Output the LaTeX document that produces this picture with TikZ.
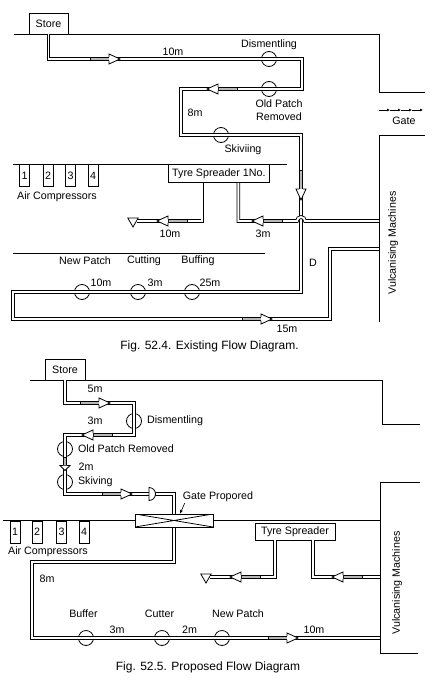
\documentclass[tikz,border=0pt]{standalone}
\usepackage{fontspec}
\setmainfont{Liberation Sans}
\usetikzlibrary{arrows.meta,positioning,shapes.geometric}

\newcommand{\lab}{\fontsize{10.7}{13}\selectfont}
\newcommand{\capfont}{\fontsize{12}{14}\selectfont}

\begin{document}
\begin{tikzpicture}[
  x=1pt, y=-1pt,
  font=\lab,
  wall/.style={draw=black, line width=0.9pt},
  pipe/.style={draw=black, line width=0.85pt, double=white, double distance=1.9pt},
  box/.style={rectangle, draw=black, line width=0.8pt, fill=white, inner sep=1pt},
  station/.style={circle, draw=black, line width=0.8pt, minimum size=15pt, inner sep=0pt},
  comp/.style={rectangle, draw=black, line width=0.8pt, fill=white,
               minimum width=10pt, minimum height=22pt, inner sep=0pt, anchor=north},
  outlet/.style={regular polygon, regular polygon sides=3, shape border rotate=180,
                 draw=black, line width=0.8pt, fill=white, minimum size=12pt, inner sep=0pt},
  txt/.style={inner sep=1pt},
  flowmark/.pic={
    \filldraw[fill=gray!55, line width=0.7pt] (0pt,-1.8pt) rectangle (19pt,1.8pt);
    \filldraw[fill=white, line width=0.8pt] (19pt,-1.8pt) -- (19pt,-5pt) -- (30pt,0pt)
      -- (19pt,5pt) -- (19pt,1.8pt);
  }
]
\useasboundingbox (0,0) rectangle (432,685);

% Fig. 52.4
\draw[wall] (14,34) -- (379,34) -- (379,92) -- (425,92);
\draw[wall] (425,135) -- (379,135) -- (379,322);
\node[box, minimum width=39pt, minimum height=21pt] (store1) at (48.5,23.5) {Store};
\foreach \gx in {379,390,401,412}
  \draw[line width=0.6pt, -{Latex[length=3pt, width=3pt]}] (\gx,110) -- ++(11,0);
\node[txt] (gate1) at (404,121) {Gate};
\node[txt, rotate=90] (vm1) at (393,243) {Vulcanising Machines};

\node[station] (dism1) at (269,59) {};
\node[station] (oldp1) at (269,89) {};
\node[station] (skiv1) at (221,135) {};
\node[station] (newp1) at (82,292) {};
\node[station] (cut1) at (138,292) {};
\node[station] (buff1) at (192,292) {};

\draw[pipe] (store1.south) |- (302,59) |- (181,89) |- (301,135) |- (13,292)
  |- (330,319) |- (379,249);

\draw[wall] (13,164) -- (287,164);
\draw[wall] (13,253) -- (265,253);
\node[box, minimum width=101pt, minimum height=18pt, anchor=north west] (sp1) at (168,164) {Tyre Spreader 1No.};
\node[comp] (ac1) at (24.5,164) {1};
\node[comp] (ac2) at (48,164) {2};
\node[comp] (ac3) at (70.5,164) {3};
\node[comp] (ac4) at (93,164) {4};
\node[txt] (acl1) at (57,197) {Air Compressors};

\node[outlet] (out1) at (133,221) {};
\draw[pipe] ([xshift=-16.5pt]sp1.south) |- (out1);
\draw[pipe] ([xshift=19.5pt]sp1.south) |- (297,221) arc[start angle=180, end angle=0, radius=4pt] -- (379,221);

\pic at (90,59) {flowmark};
\pic[rotate=180] at (237,89) {flowmark};
\pic[rotate=-90] at (301,170) {flowmark};
\pic[rotate=180] at (187,221) {flowmark};
\pic[rotate=180] at (282,221) {flowmark};
\pic at (242,319) {flowmark};

\node[txt] at (173,52) {10m};
\node[txt, above=0pt of dism1] {Dismentling};
\node[txt, align=center] at (279,110) {Old Patch\\Removed};
\node[txt] at (195,113) {8m};
\node[txt] at (243,150) {Skiviing};
\node[txt] at (170,234) {10m};
\node[txt] at (263,234) {3m};
\node[txt] at (85,261) {New Patch};
\node[txt] at (144,261) {Cutting};
\node[txt] at (198,261) {Buffing};
\node[txt] at (101,283) {10m};
\node[txt] at (155,283) {3m};
\node[txt] at (210,283) {25m};
\node[txt] at (313,263) {D};
\node[txt] at (287,329) {15m};
\node[txt, font=\capfont] (cap1) at (209.5,346) {Fig. 52.4. Existing Flow Diagram.};

% Fig. 52.5
\draw[wall] (30,380) -- (382,380) -- (382,424) -- (420,424);
\draw[wall] (420,482) -- (380,482) -- (380,653) -- (418,653);
\node[box, minimum width=40pt, minimum height=21pt] (store2) at (65,369.5) {Store};
\node[txt, rotate=90] (vm2) at (397,583) {Vulcanising Machines};

\node[station] (dism2) at (134,421) {};
\node[station] (oldp2) at (65,449) {};
\node[station] (skiv2) at (65,482) {};
\node[station] (buf2) at (86,638) {};
\node[station] (cutr2) at (162,638) {};
\node[station] (newp2) at (222,638) {};

\draw[pipe] (store2.south) |- (134,403) |- (65,435) |- (174,494) |- (32,562) |- (380,638);

\coordinate (valve) at (149,494);
\draw[line width=0.8pt, fill=white] ([yshift=6.5pt]valve) -- ([yshift=-6.5pt]valve)
  arc[start angle=-90, end angle=90, radius=6.5pt] -- cycle;

\node[box, minimum width=78pt, minimum height=13pt,
  path picture={\draw (path picture bounding box.north west) -- (path picture bounding box.south east)
    (path picture bounding box.south west) -- (path picture bounding box.north east);}]
  (gate2) at (174,520.5) {};
\draw[wall] (3,520.5) -- (gate2.west);
\draw[wall] (gate2.east) -- (380,520.5);
\node[comp] (ac5) at (15,520.5) {1};
\node[comp] (ac6) at (37,520.5) {2};
\node[comp] (ac7) at (61.5,520.5) {3};
\node[comp] (ac8) at (84,520.5) {4};
\node[txt] (acl2) at (48,552) {Air Compressors};

\node[txt] (gp) at (218,497) {Gate Propored};
\draw[line width=0.6pt, -{Stealth[length=4pt, width=3pt]}] ([xshift=3pt]gp.south west) -- ([xshift=6pt]gate2.north);

\node[box, minimum width=80pt, minimum height=17pt] (sp2) at (295,531.5) {Tyre Spreader};
\node[outlet] (out2) at (206,577) {};
\draw[pipe] ([xshift=-20pt]sp2.south) |- (out2);
\draw[pipe] ([xshift=18pt]sp2.south) |- (380,577);

\pic at (80,403) {flowmark};
\pic[rotate=180] at (112,435) {flowmark};
\pic[rotate=-90, xscale=0.45] at (65,457) {flowmark};
\pic at (102,494) {flowmark};
\pic[rotate=180] at (260,577) {flowmark};
\pic[rotate=180] at (362,577) {flowmark};
\pic at (268,638) {flowmark};

\node[txt] at (95,389) {5m};
\node[txt] at (95,421) {3m};
\node[txt, right=4pt of dism2] {Dismentling};
\node[txt, right=4pt of oldp2] {Old Patch Removed};
\node[txt] at (86,467) {2m};
\node[txt, right=4pt of skiv2] {Skiving};
\node[txt] at (47,579) {8m};
\node[txt] at (83.5,614) {Buffer};
\node[txt] at (159.5,614) {Cutter};
\node[txt] at (238,614) {New Patch};
\node[txt] at (117,630) {3m};
\node[txt] at (189.5,630) {2m};
\node[txt] at (314,630) {10m};
\node[txt, font=\capfont] (cap2) at (208,667) {Fig. 52.5. Proposed Flow Diagram};

\end{tikzpicture}
\end{document}
